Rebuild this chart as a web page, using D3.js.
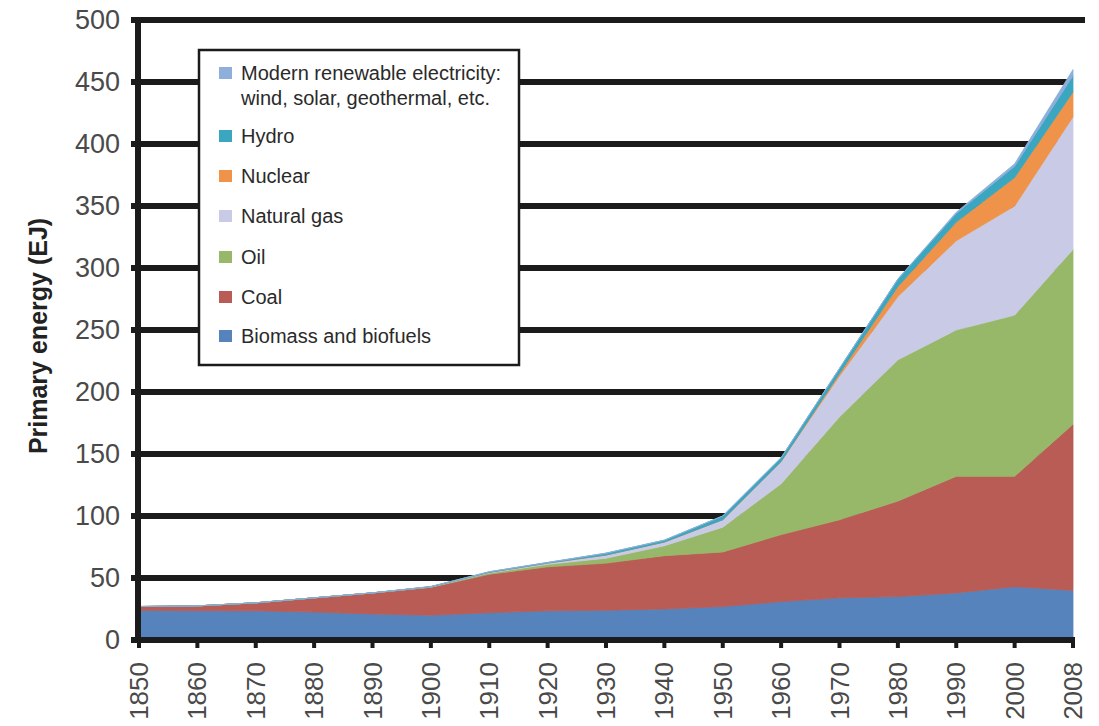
<!DOCTYPE html>
<html lang="en">
  <head>
    <meta charset="utf-8" />
    <title>Primary energy</title>
    <script src="https://cdn.jsdelivr.net/npm/d3@7"></script>
    <style>
      body { margin: 0; background: #fff; }
      svg { display: block; font-family: "Liberation Sans", Arial, sans-serif; }
    </style>
  </head>
  <body>
    <script>
      // values, EJ per source
      const years = ["1850", "1860", "1870", "1880", "1890", "1900", "1910", "1920", "1930",
        "1940", "1950", "1960", "1970", "1980", "1990", "2000", "2008"];
      const biomass = [24, 23.6, 23.5, 22.5, 21, 20, 22, 23.5, 24, 25, 27, 31, 34, 35, 38, 43, 40];
      const coal = [3, 3.9, 6.5, 11.5, 17, 22.5, 31, 35.5, 38, 43, 44, 54, 63, 77, 94, 89, 134];
      const oil = [0, 0, 0, 0, 0, 0.2, 1, 2, 4, 8, 20, 41, 83, 114, 118, 130, 141];
      const gas = [0, 0, 0, 0, 0, 0.2, 0.5, 1, 2.5, 3, 6, 18, 33, 51, 72, 88, 107];
      const nuclear = [0, 0, 0, 0, 0, 0, 0, 0, 0, 0, 0, 0, 2, 8, 15, 23, 20];
      const hydro = [0, 0, 0, 0, 0, 0.2, 0.5, 0.5, 1.5, 1.5, 3, 3, 4, 6, 7, 9, 13];
      const renewables = [0, 0, 0, 0, 0, 0, 0, 0, 0, 0, 0, 0, 0, 0, 1, 2, 5];
      const yTicks = [0, 50, 100, 150, 200, 250, 300, 350, 400, 450, 500];

      const series = [
        { key: "biomass", name: "Biomass and biofuels", values: biomass, color: "#5683bb" },
        { key: "coal", name: "Coal", values: coal, color: "#b95c55" },
        { key: "oil", name: "Oil", values: oil, color: "#98b869" },
        { key: "gas", name: "Natural gas", values: gas, color: "#c9cbe6" },
        { key: "nuclear", name: "Nuclear", values: nuclear, color: "#ef934a" },
        { key: "hydro", name: "Hydro", values: hydro, color: "#3aa6bf" },
        { key: "renew", name: ["Modern renewable electricity:", "wind, solar, geothermal, etc."], values: renewables, color: "#8eaedb" }
      ];

      const width = 1099, height = 726;
      const x0 = 139, x1 = 1073, yBottom = 640, yTop = 20;

      const svg = d3.select("body").append("svg")
        .attr("width", width).attr("height", height);

      const x = d3.scalePoint().domain(years).range([x0, x1]);
      const y = d3.scaleLinear().domain([0, 500]).range([yBottom, yTop]);

      const table = years.map((yr, i) => {
        const row = { year: yr };
        series.forEach(s => { row[s.key] = s.values[i]; });
        return row;
      });
      const stacked = d3.stack().keys(series.map(s => s.key))(table);

      // gridlines sit behind the areas
      svg.append("g")
        .selectAll("line")
        .data(yTicks.filter(t => t > 0))
        .join("line")
        .attr("x1", x0 - 8)
        .attr("x2", t => t === 500 ? x1 + 12 : x1)
        .attr("y1", t => y(t)).attr("y2", t => y(t))
        .attr("stroke", "#1b1b1b")
        .attr("stroke-width", 6);

      const area = d3.area()
        .x(d => x(d.data.year))
        .y0(d => y(d[0]))
        .y1(d => y(d[1]));

      svg.append("g")
        .selectAll("path")
        .data(stacked)
        .join("path")
        .attr("d", area)
        .attr("fill", (d, i) => series[i].color)
        .attr("stroke", (d, i) => series[i].color)
        .attr("stroke-width", 0.8);

      // axes
      svg.append("line")
        .attr("x1", x0 - 1).attr("x2", x0 - 1)
        .attr("y1", yTop - 3).attr("y2", yBottom + 3)
        .attr("stroke", "#1b1b1b").attr("stroke-width", 6);
      svg.append("line")
        .attr("x1", x0 - 8).attr("x2", x1 + 2)
        .attr("y1", yBottom).attr("y2", yBottom)
        .attr("stroke", "#1b1b1b").attr("stroke-width", 6);

      svg.append("g")
        .selectAll("rect")
        .data(years)
        .join("rect")
        .attr("x", d => x(d) - 2)
        .attr("y", yBottom)
        .attr("width", 4)
        .attr("height", 8)
        .attr("fill", "#1b1b1b");

      svg.append("g")
        .selectAll("text")
        .data(yTicks)
        .join("text")
        .attr("x", 120)
        .attr("y", t => y(t))
        .attr("dy", "0.35em")
        .attr("text-anchor", "end")
        .attr("font-size", 27)
        .attr("fill", "#4a4a4a")
        .text(t => t);

      svg.append("g")
        .selectAll("text")
        .data(years)
        .join("text")
        .attr("transform", d => `translate(${x(d)},662) rotate(-90)`)
        .attr("dy", "0.35em")
        .attr("text-anchor", "end")
        .attr("font-size", 26)
        .attr("fill", "#4a4a4a")
        .text(d => d);

      svg.append("text")
        .attr("transform", "translate(47,336) rotate(-90)")
        .attr("text-anchor", "middle")
        .attr("font-size", 25)
        .attr("font-weight", "bold")
        .attr("fill", "#222")
        .text("Primary energy (EJ)");

      // legend box
      const legend = svg.append("g");
      legend.append("rect")
        .attr("x", 199).attr("y", 50)
        .attr("width", 320).attr("height", 315)
        .attr("fill", "#fff")
        .attr("stroke", "#1b1b1b").attr("stroke-width", 2.5);

      const legendRows = series.slice().reverse();
      const rowY = [73, 136, 176, 216, 257, 297, 336];
      legendRows.forEach((s, i) => {
        legend.append("rect")
          .attr("x", 219).attr("y", rowY[i] - 6)
          .attr("width", 13).attr("height", 12)
          .attr("fill", s.color);
        const lines = Array.isArray(s.name) ? s.name : [s.name];
        const t = legend.append("text")
          .attr("x", 241).attr("y", rowY[i])
          .attr("font-size", 20)
          .attr("fill", "#2a2a2a");
        lines.forEach((ln, j) => {
          t.append("tspan").attr("x", 241).attr("dy", j === 0 ? "0.35em" : 25).text(ln);
        });
      });
    </script>
  </body>
</html>
